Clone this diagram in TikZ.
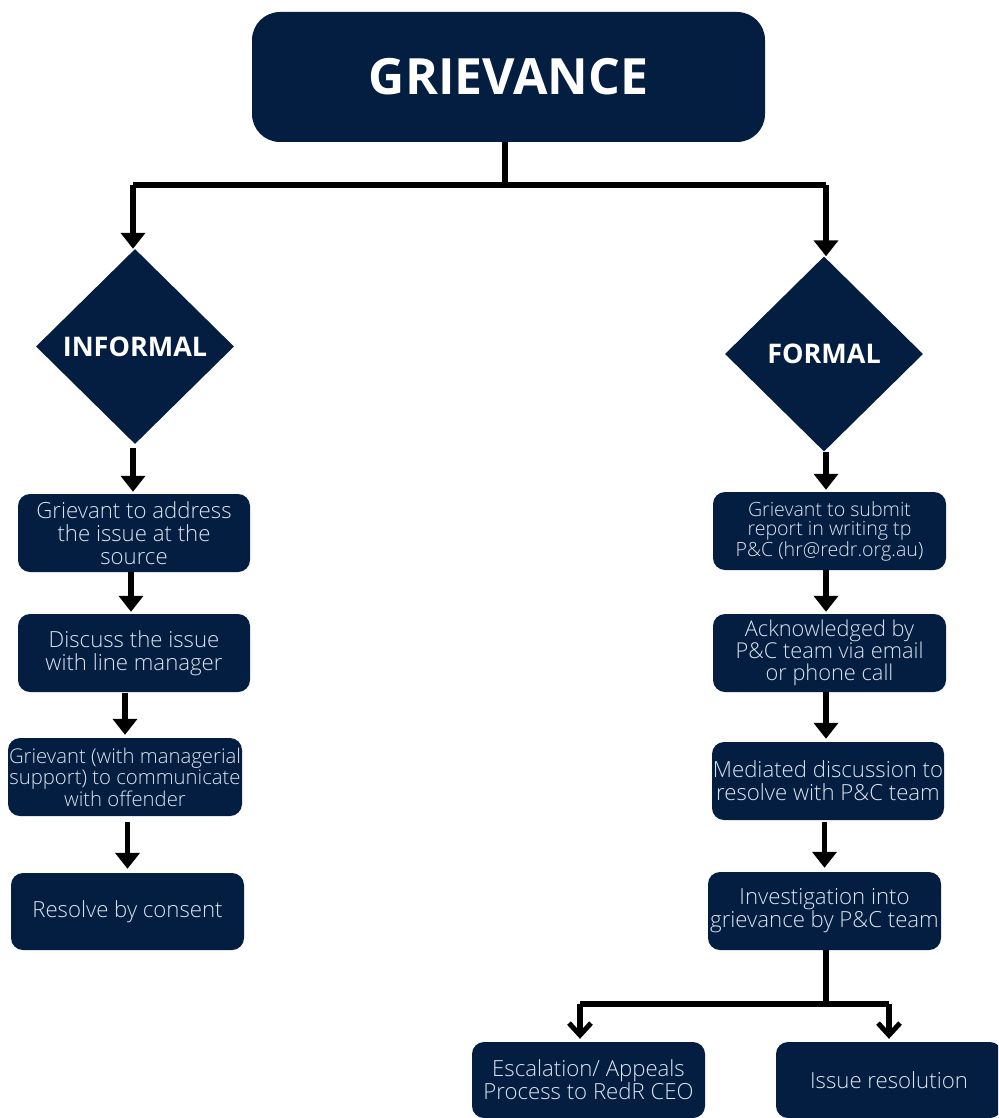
\documentclass[tikz,border=0pt]{standalone}
\usepackage{fontspec}
\setmainfont{Open Sans}
\newfontfamily\lightfont{Open Sans Light}
\usetikzlibrary{shapes.geometric,arrows.meta}
\definecolor{navy}{HTML}{041E42}
\definecolor{ltxt}{HTML}{DCE4EE}
\tikzset{
  box/.style={draw=none,fill=navy,rounded corners=12pt,text=ltxt,align=center,
    minimum width=232pt,minimum height=78pt,inner sep=0pt,
    font=\lightfont\fontsize{22.2}{22.8}\selectfont},
  dia/.style={diamond,draw=none,fill=navy,text=white,inner sep=0pt,
    minimum width=198pt,minimum height=195pt,font=\bfseries\fontsize{27}{30}\selectfont},
  conn/.style={line width=5.5pt,black},
  arr/.style={conn,-{Triangle[width=24pt,length=16pt]}},
  barb/.style={conn,-{Straight Barb[width=22pt,length=12pt,line width=5pt]}},
}
\begin{document}
\begin{tikzpicture}[x=1pt,y=-1pt]
\useasboundingbox (0,0) rectangle (998,1118);
\clip (0,0) rectangle (998,1118);
% top
\node[box,rounded corners=28pt,minimum width=513pt,minimum height=130pt,text=white,
  font=\bfseries\fontsize{50}{55}\selectfont] (top) at (508.5,77) {GRIEVANCE};
% diamonds
\node[dia] (inf) at (135,346.5) {INFORMAL};
\node[dia] (for) at (824,354) {FORMAL};
% left column
\node[box] (l1) at (134,533) {Grievant to address\\the issue at the\\source};
\node[box] (l2) at (134,653) {Discuss the issue\\with line manager};
\node[box,minimum width=234pt,font=\lightfont\fontsize{20.3}{21.5}\selectfont] (l3) at (125,777) {Grievant (with managerial\\support) to communicate\\with offender};
\node[box,minimum width=233pt,minimum height=77pt] (l4) at (127.5,911.5) {Resolve by consent};
% right column
\node[box,minimum width=233pt,font=\lightfont\fontsize{19.6}{19.5}\selectfont] (r1) at (829.5,531) {Grievant to submit\\report in writing tp\\P\&C (hr@redr.org.au)};
\node[box,minimum width=233pt,font=\lightfont\fontsize{21.8}{22}\selectfont] (r2) at (829.5,653) {Acknowledged by\\P\&C team via email\\or phone call};
\node[box] (r3) at (828,781) {Mediated discussion to\\resolve with P\&C team};
\node[box,minimum width=233pt] (r4) at (824.5,911) {Investigation into\\grievance by P\&C team};
% bottom
\node[box,minimum width=233pt,minimum height=76pt] (b1) at (588.5,1080) {Escalation/ Appeals\\Process to RedR CEO};
\node[box,minimum width=226pt,minimum height=76pt] (b2) at (889,1080) {Issue resolution};
% connectors top
\coordinate (j1) at (505,185);
\coordinate (jl) at (133,185);
\coordinate (jr) at (826,185);
\coordinate (lx) at (131,0);
\draw[conn] (top.south -| j1) -- (j1);
\draw[conn] (jl) -- (jr);
\draw[arr] (jl) -- (jl |- inf.north);
\draw[arr] (jr) -- (jr |- for.north);
% left chain
\draw[arr,shorten <=4pt,shorten >=2pt] (inf.south -| jl) -- (jl |- l1.north);
\draw[arr,shorten >=2pt] (l1.south -| lx) -- (lx |- l2.north);
\draw[arr,shorten <=1pt,shorten >=3pt] (l3.north |- l2.south) -- (l3.north);
\draw[arr,shorten <=6pt,shorten >=4pt] (l3.south -| l4.north) -- (l4.north);
% right chain
\draw[arr,shorten >=2pt] (for.south -| jr) -- (jr |- r1.north);
\draw[arr,shorten >=2pt] (r1.south -| jr) -- (jr |- r2.north);
\draw[arr,shorten >=3pt] (r2.south -| jr) -- (jr |- r3.north);
\draw[arr,shorten <=2pt,shorten >=4pt] (r3.south -| r4.north) -- (r4.north);
% bottom split
\coordinate (jb) at (826,1004);
\coordinate (bl) at (580,1004);
\coordinate (br) at (889,1004);
\draw[conn] (r4.south -| jb) -- (jb);
\draw[conn] (bl) -- (br);
\draw[barb,shorten >=3pt] (bl) -- (bl |- b1.north);
\draw[barb,shorten >=3pt] (br) -- (br |- b2.north);
\end{tikzpicture}
\end{document}
